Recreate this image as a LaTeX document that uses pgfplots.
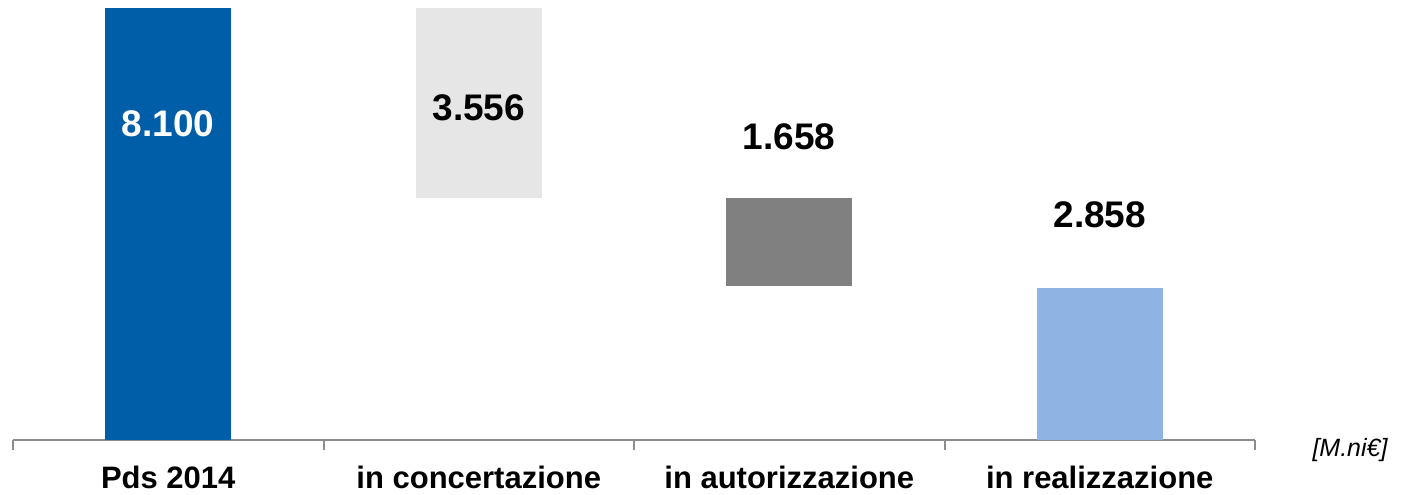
\documentclass[border=0pt]{standalone}
\usepackage{pgfplots}
\pgfplotsset{compat=1.18}
\usepackage{fontspec}
\setmainfont{Liberation Sans}
\definecolor{cBlue}{RGB}{0,94,168}
\definecolor{cLight}{RGB}{230,230,230}
\definecolor{cDark}{RGB}{128,128,128}
\definecolor{cSky}{RGB}{141,180,226}
\definecolor{cAxis}{RGB}{140,140,140}
\begin{document}
\begin{tikzpicture}
\begin{axis}[
  scale only axis, width=621pt, height=216pt,
  xmin=-0.5, xmax=3.5, ymin=0, ymax=8100,
  ybar stacked, bar width=63pt,
  axis x line=bottom, axis y line=none,
  axis line style={-, draw=cAxis, line width=1pt},
  xtick={0,1,2,3},
  xticklabels={Pds 2014, in concertazione, in autorizzazione, in realizzazione},
  major tick length=0pt,
  minor xtick={-0.5,0.5,1.5,2.5,3.5},
  minor tick length=5pt,
  tick align=outside,
  minor tick style={draw=cAxis, line width=1pt},
  xticklabel style={font=\bfseries\fontsize{15.5}{17}\selectfont, text=black, anchor=base, yshift=-24pt},
  clip=false,
]
\addplot[draw=none, fill=none] coordinates {(0,0) (1,4544) (2,2886) (3,0)};
\addplot[draw=none, fill=cBlue] coordinates {(0,8100) (1,0) (2,0) (3,0)};
\addplot[draw=none, fill=cLight] coordinates {(0,0) (1,3556) (2,0) (3,0)};
\addplot[draw=none, fill=cDark] coordinates {(0,0) (1,0) (2,1658) (3,0)};
\addplot[draw=none, fill=cSky] coordinates {(0,0) (1,0) (2,0) (3,2858)};
\coordinate (L1) at (axis cs:0,5925);
\coordinate (L2) at (axis cs:1,6225);
\coordinate (L3) at (axis cs:2,5681);
\coordinate (L4) at (axis cs:3,4219);
\coordinate (L5) at (axis cs:3.806,0);
\end{axis}
\node[font=\bfseries\fontsize{18.5}{20}\selectfont, text=white] at (L1) {8.100};
\node[font=\bfseries\fontsize{18.5}{20}\selectfont] at (L2) {3.556};
\node[font=\bfseries\fontsize{18.5}{20}\selectfont] at (L3) {1.658};
\node[font=\bfseries\fontsize{18.5}{20}\selectfont] at (L4) {2.858};
\node[font=\itshape\fontsize{12.5}{14}\selectfont, yshift=-5pt] at (L5) {[M.ni€]};
\pgfresetboundingbox
\path (-6.5pt,-27pt) rectangle (702.5pt,220pt);
\end{tikzpicture}
\end{document}
